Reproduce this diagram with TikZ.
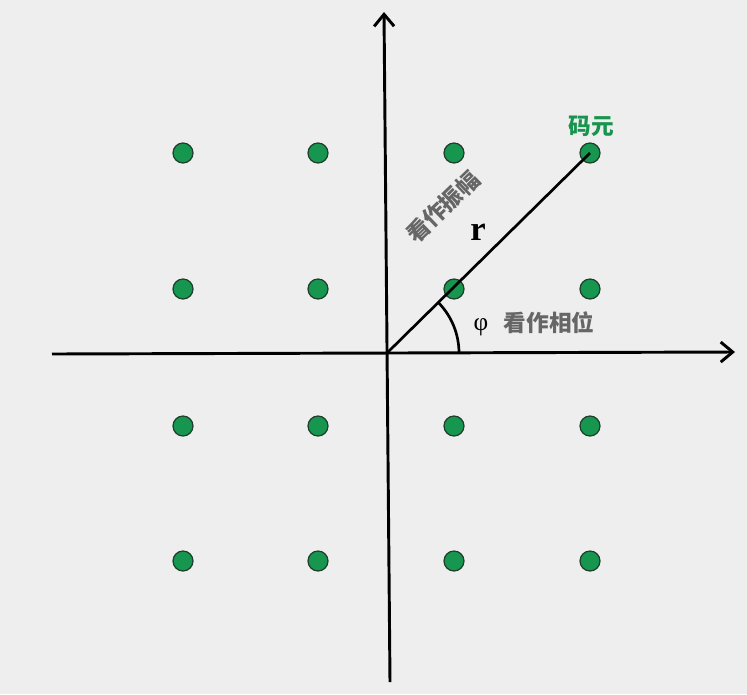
\documentclass[tikz,border=0pt]{standalone}
\usepackage{fontspec}
\newfontfamily\cjk{Noto Sans CJK SC}
\newfontfamily\serifgr{Liberation Serif}
\usetikzlibrary{arrows.meta,calc}
\definecolor{bg}{HTML}{EEEEEE}
\definecolor{dotgreen}{HTML}{16964F}
\definecolor{dotedge}{HTML}{1F3D2A}
\definecolor{labgray}{HTML}{666666}
\definecolor{labgreen}{HTML}{17944E}
\tikzset{
  axis/.style={line width=2.2pt, -{Straight Barb[length=9pt,width=15pt,line width=2.2pt]}},
  symb/.style={circle, fill=dotgreen, draw=dotedge, line width=0.9pt, minimum size=15pt, inner sep=0pt},
  graylab/.style={text=labgray, font=\cjk\bfseries\fontsize{17}{17}\selectfont, inner sep=0pt},
}
\begin{document}
\begin{tikzpicture}[x=0.75pt,y=-0.75pt]
\fill[bg] (0,0) rectangle (747,694);
\useasboundingbox (0,0) rectangle (747,694);
\coordinate (O) at (387,353);
\coordinate (xl) at (52,354);
\coordinate (xr) at (735,352);
\coordinate (yb) at (390,682);
\coordinate (yt) at (384,12);
\draw[axis] (xl) -- (xr);
\draw[axis] (yb) -- (yt);
\foreach \i/\x in {1/183,2/318,3/454,4/590}
  \foreach \j/\y in {1/153,2/289,3/426,4/561}
    \node[symb] (d\i\j) at (\x,\y) {};
\draw[line width=2pt] (O) -- (d41.center);
\draw[line width=2pt] ($(O)+(72,0)$) arc[start angle=0, end angle=-44.3, radius=72];
\node[font=\cjk\bfseries\fontsize{17}{17}\selectfont, text=labgreen] (lab1) at (591,126) {码元};
\node[graylab, rotate=44] (lab2) at (443,207) {看作振幅};
\node[font=\serifgr\bfseries\fontsize{26}{26}\selectfont, inner sep=0pt] (lab3) at (478,232) {r};
\node[font=\serifgr\fontsize{19}{19}\selectfont, inner sep=0pt] (lab4) at (481,327) {φ};
\node[graylab] (lab5) at (549,323) {看作相位};
\end{tikzpicture}
\end{document}
